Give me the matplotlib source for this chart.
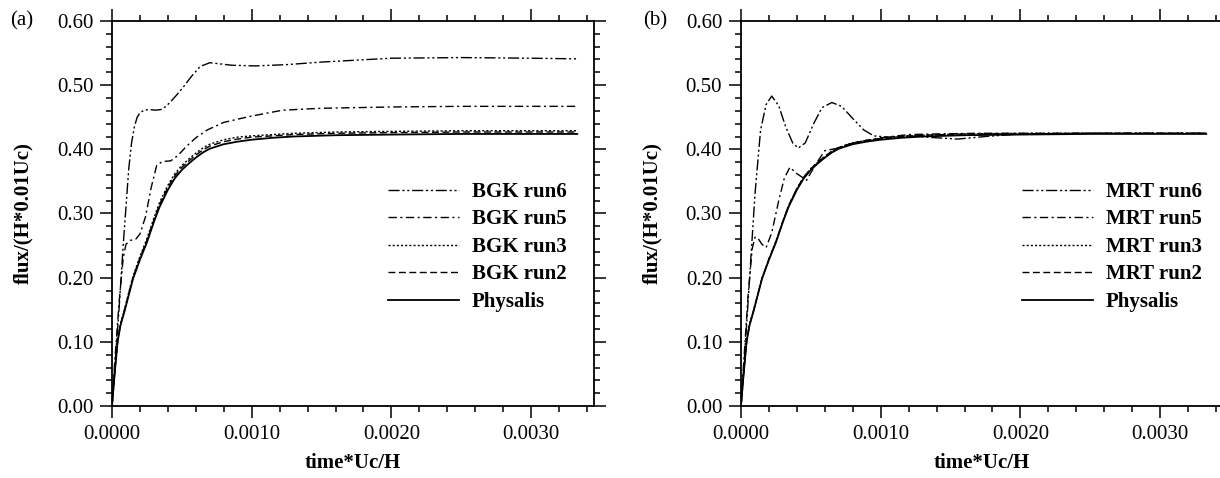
import matplotlib
matplotlib.use("Agg")
import matplotlib.pyplot as plt
from matplotlib.ticker import MultipleLocator, FormatStrFormatter

plt.rcParams['font.family'] = ['Liberation Serif', 'DejaVu Serif']

# physalis reference (same in both panels)
t_phys = [0, 1.5e-5, 2.5e-5, 4e-5, 6e-5, 9e-5, 1.2e-4, 1.5e-4, 2e-4, 2.5e-4, 3e-4,
          3.4e-4, 4e-4, 4.5e-4, 5e-4, 5.5e-4, 6e-4, 6.5e-4, 7e-4, 8e-4, 9e-4, 1e-3,
          1.15e-3, 1.3e-3, 1.6e-3, 2e-3, 2.5e-3, 3e-3, 3.33e-3]
v_phys = [0, 0.04, 0.065, 0.10, 0.125, 0.148, 0.173, 0.198, 0.228, 0.255, 0.287,
          0.310, 0.337, 0.355, 0.368, 0.378, 0.387, 0.395, 0.401, 0.408, 0.412, 0.415,
          0.418, 0.420, 0.422, 0.423, 0.424, 0.424, 0.424]

# BGK runs
bgk_run2_t = t_phys
bgk_run2_v = [0, 0.04, 0.066, 0.10, 0.127, 0.150, 0.175, 0.200, 0.231, 0.258, 0.290,
              0.314, 0.341, 0.359, 0.372, 0.382, 0.391, 0.399, 0.405, 0.412, 0.416, 0.419,
              0.421, 0.423, 0.425, 0.426, 0.427, 0.427, 0.427]
bgk_run3_t = t_phys
bgk_run3_v = [0, 0.04, 0.066, 0.10, 0.127, 0.151, 0.177, 0.202, 0.233, 0.261, 0.293,
              0.317, 0.344, 0.362, 0.375, 0.385, 0.394, 0.402, 0.408, 0.415, 0.419, 0.421,
              0.423, 0.425, 0.427, 0.428, 0.429, 0.429, 0.429]
bgk_run5_t = [0, 2e-5, 5e-5, 8e-5, 1e-4, 1.3e-4, 1.7e-4, 2e-4, 2.4e-4, 2.8e-4, 3.2e-4,
              3.6e-4, 4.2e-4, 4.7e-4, 5.3e-4, 6e-4, 6.8e-4, 8e-4, 9.8e-4, 1.22e-3,
              1.5e-3, 2e-3, 2.5e-3, 3e-3, 3.33e-3]
bgk_run5_v = [0, 0.07, 0.16, 0.23, 0.252, 0.258, 0.260, 0.268, 0.295, 0.340, 0.375,
              0.381, 0.382, 0.390, 0.404, 0.418, 0.430, 0.442, 0.451, 0.461,
              0.464, 0.466, 0.467, 0.467, 0.467]
bgk_run6_t = [0, 2e-5, 5e-5, 8e-5, 1e-4, 1.2e-4, 1.4e-4, 1.6e-4, 1.8e-4, 2e-4, 2.3e-4,
              2.7e-4, 3.1e-4, 3.5e-4, 3.8e-4, 4.1e-4, 4.6e-4, 5.1e-4, 5.7e-4, 6.3e-4,
              7e-4, 7.8e-4, 8.6e-4, 1.03e-3, 1.25e-3, 1.5e-3, 2e-3, 2.5e-3, 3e-3, 3.33e-3]
bgk_run6_v = [0, 0.06, 0.15, 0.25, 0.31, 0.37, 0.41, 0.435, 0.450, 0.457, 0.461,
              0.462, 0.461, 0.462, 0.466, 0.472, 0.484, 0.497, 0.514, 0.529,
              0.535, 0.533, 0.531, 0.530, 0.532, 0.536, 0.542, 0.543, 0.542, 0.541]

# MRT runs
mrt_run2_t = t_phys
mrt_run2_v = [0, 0.04, 0.065, 0.10, 0.126, 0.149, 0.174, 0.199, 0.229, 0.256, 0.288,
              0.312, 0.339, 0.357, 0.370, 0.380, 0.389, 0.397, 0.403, 0.410, 0.414, 0.417,
              0.420, 0.422, 0.424, 0.424, 0.425, 0.425, 0.425]
mrt_run3_t = t_phys
mrt_run3_v = [0, 0.04, 0.065, 0.10, 0.126, 0.149, 0.174, 0.199, 0.229, 0.257, 0.288,
              0.312, 0.339, 0.357, 0.370, 0.380, 0.389, 0.397, 0.403, 0.410, 0.414, 0.417,
              0.420, 0.422, 0.424, 0.425, 0.425, 0.425, 0.425]
mrt_run5_t = [0, 2e-5, 5e-5, 8e-5, 1e-4, 1.2e-4, 1.5e-4, 1.8e-4, 2.2e-4, 2.7e-4,
              3.1e-4, 3.5e-4, 4e-4, 4.7e-4, 5.3e-4, 6e-4, 7e-4, 8e-4, 1e-3,
              1.2e-3, 1.4e-3, 1.7e-3, 2e-3, 2.5e-3, 3e-3, 3.33e-3]
mrt_run5_v = [0, 0.07, 0.17, 0.245, 0.263, 0.262, 0.252, 0.247, 0.270, 0.320,
              0.355, 0.372, 0.362, 0.352, 0.375, 0.398, 0.402, 0.410, 0.418,
              0.423, 0.424, 0.425, 0.425, 0.425, 0.425, 0.425]
mrt_run6_t = [0, 2e-5, 5e-5, 1e-4, 1.4e-4, 1.8e-4, 2.2e-4, 2.7e-4, 3.2e-4, 3.7e-4,
              4.1e-4, 4.6e-4, 5.2e-4, 5.8e-4, 6.5e-4, 7.2e-4, 8e-4, 8.8e-4, 9.5e-4,
              1.05e-3, 1.2e-3, 1.4e-3, 1.55e-3, 1.75e-3, 2e-3, 2.5e-3, 3e-3, 3.33e-3]
mrt_run6_v = [0, 0.06, 0.16, 0.33, 0.43, 0.47, 0.483, 0.468, 0.435, 0.410,
              0.402, 0.410, 0.440, 0.465, 0.473, 0.467, 0.448, 0.430, 0.421,
              0.419, 0.421, 0.418, 0.416, 0.420, 0.424, 0.425, 0.425, 0.425]

styles = {
    'run6': (0, (8, 2, 1.5, 2, 1.5, 2)),
    'run5': (0, (6, 2.5, 1.5, 2.5)),
    'run3': (0, (1.5, 1.5)),
    'run2': (0, (5, 2.5)),
    'phys': '-',
}

fig = plt.figure(figsize=(12.2, 4.78), dpi=100)
W, H = 1220.0, 478.0


def setup(ax, tag, tagx):
    ax.set_xlim(0, 0.00345)
    ax.set_ylim(0, 0.6)
    ax.xaxis.set_major_locator(MultipleLocator(0.001))
    ax.xaxis.set_minor_locator(MultipleLocator(0.0002))
    ax.yaxis.set_major_locator(MultipleLocator(0.1))
    ax.yaxis.set_minor_locator(MultipleLocator(0.02))
    ax.xaxis.set_major_formatter(FormatStrFormatter('%.4f'))
    ax.yaxis.set_major_formatter(FormatStrFormatter('%.2f'))
    ax.tick_params(which='both', direction='out', top=True, right=True, width=1.1,
                   labelsize=15)
    ax.tick_params(which='major', length=8.5, pad=5)
    ax.tick_params(which='minor', length=4.3)
    for s in ax.spines.values():
        s.set_linewidth(1.3)
    ax.set_xlabel('time*Uc/H', fontsize=15, fontweight='bold', labelpad=7)
    ax.set_ylabel('flux/(H*0.01Uc)', fontsize=15, fontweight='bold')
    ax.yaxis.set_label_coords(-0.163, 0.5)
    fig.text(tagx / W, 1 - 21 / H, tag, fontsize=15, ha='center', va='center')


legend_kw = dict(loc='upper left', frameon=False, prop={'size': 15, 'weight': 'bold'},
                 handlelength=3.4, handletextpad=0.62, labelspacing=0.36,
                 borderpad=0, borderaxespad=0)

ax1 = fig.add_axes([112 / W, 72 / H, 482 / W, 385 / H])
ax1.plot(bgk_run6_t, bgk_run6_v, color='k', lw=1, ls=styles['run6'], label='BGK run6')
ax1.plot(bgk_run5_t, bgk_run5_v, color='k', lw=1, ls=styles['run5'], label='BGK run5')
ax1.plot(bgk_run3_t, bgk_run3_v, color='k', lw=1, ls=styles['run3'], label='BGK run3')
ax1.plot(bgk_run2_t, bgk_run2_v, color='k', lw=1, ls=styles['run2'], label='BGK run2')
ax1.plot(t_phys, v_phys, color='k', lw=1.3, ls=styles['phys'], label='Physalis')
setup(ax1, '(a)', 22)
ax1.legend(bbox_to_anchor=(0.573, 0.582), **legend_kw)

ax2 = fig.add_axes([741 / W, 72 / H, 482 / W, 385 / H])
ax2.plot(mrt_run6_t, mrt_run6_v, color='k', lw=1, ls=styles['run6'], label='MRT run6')
ax2.plot(mrt_run5_t, mrt_run5_v, color='k', lw=1, ls=styles['run5'], label='MRT run5')
ax2.plot(mrt_run3_t, mrt_run3_v, color='k', lw=1, ls=styles['run3'], label='MRT run3')
ax2.plot(mrt_run2_t, mrt_run2_v, color='k', lw=1, ls=styles['run2'], label='MRT run2')
ax2.plot(t_phys, v_phys, color='k', lw=1.3, ls=styles['phys'], label='Physalis')
setup(ax2, '(b)', 655)
ax2.legend(bbox_to_anchor=(0.583, 0.582), **legend_kw)

fig.savefig('out.png', dpi=100)
